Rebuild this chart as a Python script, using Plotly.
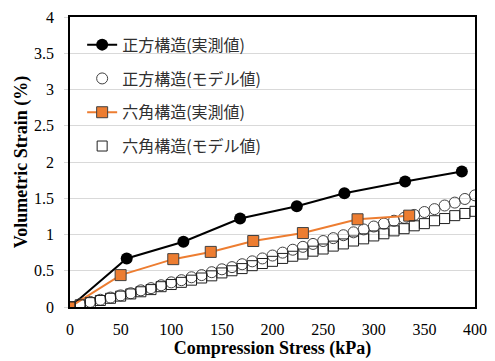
import plotly.graph_objects as go

# Data
sq_meas_x = [0, 56, 112, 168, 224, 271, 331, 387]
sq_meas_y = [0, 0.67, 0.90, 1.22, 1.39, 1.57, 1.73, 1.87]

hex_meas_x = [0, 50, 102, 139, 181, 230, 284, 335]
hex_meas_y = [0, 0.44, 0.66, 0.76, 0.91, 1.02, 1.21, 1.26]

model_x = [0, 10, 20, 30, 40, 50, 60, 70, 80, 90, 100, 110, 120, 130, 140, 150, 160, 170, 180, 190,
           200, 210, 220, 230, 240, 250, 260, 270, 280, 290, 300, 310, 320, 330, 340, 350, 360, 370, 380, 390, 400]
sq_model_y = [0, 0.04, 0.07, 0.10, 0.13, 0.16, 0.19, 0.23, 0.26, 0.30, 0.34, 0.37, 0.41, 0.44, 0.48, 0.52,
              0.55, 0.59, 0.63, 0.67, 0.71, 0.75, 0.79, 0.83, 0.87, 0.91, 0.95, 0.99, 1.03, 1.07, 1.11,
              1.15, 1.19, 1.23, 1.27, 1.31, 1.35, 1.40, 1.44, 1.49, 1.54]
hex_model_y = [0, 0.03, 0.06, 0.09, 0.12, 0.15, 0.18, 0.21, 0.24, 0.28, 0.31, 0.34, 0.37, 0.40, 0.43, 0.47,
               0.50, 0.53, 0.57, 0.60, 0.63, 0.67, 0.70, 0.73, 0.77, 0.80, 0.84, 0.87, 0.91, 0.94, 0.98,
               1.01, 1.05, 1.08, 1.12, 1.15, 1.19, 1.22, 1.26, 1.29, 1.32]

names = ["正方構造(実測値)", "正方構造(モデル値)", "六角構造(実測値)", "六角構造(モデル値)"]
x_ticks = [0, 50, 100, 150, 200, 250, 300, 350, 400]
y_ticks = [0, 0.5, 1, 1.5, 2, 2.5, 3, 3.5, 4]

fig = go.Figure()
fig.add_trace(go.Scatter(x=sq_meas_x, y=sq_meas_y, name=names[0], legendgroup="a", mode="lines+markers",
                         line=dict(color="black", width=2),
                         marker=dict(symbol="circle", size=12, color="black")))
fig.add_trace(go.Scatter(x=model_x, y=sq_model_y, name=names[1], legendgroup="b", mode="markers",
                         marker=dict(symbol="circle-open", size=11, color="#404040", line=dict(width=1))))
fig.add_trace(go.Scatter(x=hex_meas_x, y=hex_meas_y, name=names[2], legendgroup="c", mode="lines+markers",
                         line=dict(color="#ED7D31", width=2),
                         marker=dict(symbol="square", size=11, color="#ED7D31",
                                     line=dict(color="#404040", width=1))))
fig.add_trace(go.Scatter(x=model_x, y=hex_model_y, name=names[3], legendgroup="d", mode="markers",
                         marker=dict(symbol="square-open", size=10, color="#202020", line=dict(width=1))))

serif = "Liberation Serif"
fig.update_layout(
    width=487, height=353,
    margin=dict(l=62, r=20, t=9, b=54),
    paper_bgcolor="white", plot_bgcolor="white",
    font=dict(family=serif, size=16, color="black"),
    showlegend=True,
    legend=dict(x=0.03, y=0.963, xanchor="left", yanchor="top",
                font=dict(family="Noto Sans CJK JP", size=16, color="#303030"),
                bgcolor="rgba(255,255,255,0)", tracegroupgap=10, itemwidth=30,
                traceorder="grouped"),
    xaxis=dict(range=[0, 400], tickvals=x_ticks, showgrid=False, zeroline=False,
               showline=True, linecolor="black", linewidth=1.5, mirror=True,
               ticks="", ticklabelstandoff=7, tickfont=dict(family=serif, size=16),
               title=dict(text="<b>Compression Stress (kPa)</b>", standoff=3,
                          font=dict(family=serif, size=18))),
    yaxis=dict(range=[0, 4], tickvals=y_ticks, showgrid=True, gridcolor="#d9d9d9", gridwidth=1,
               zeroline=False, showline=True, linecolor="black", linewidth=1.5, mirror=True,
               ticks="outside", ticklen=4, tickcolor="#d9d9d9", ticklabelstandoff=7,
               tickfont=dict(family=serif, size=16),
               title=dict(text="<b>Volumetric Strain (%)</b>", standoff=2,
                          font=dict(family=serif, size=18))),
)
fig.update_xaxes(automargin=False)
fig.update_yaxes(automargin=False)

fig.write_html("out.html")
